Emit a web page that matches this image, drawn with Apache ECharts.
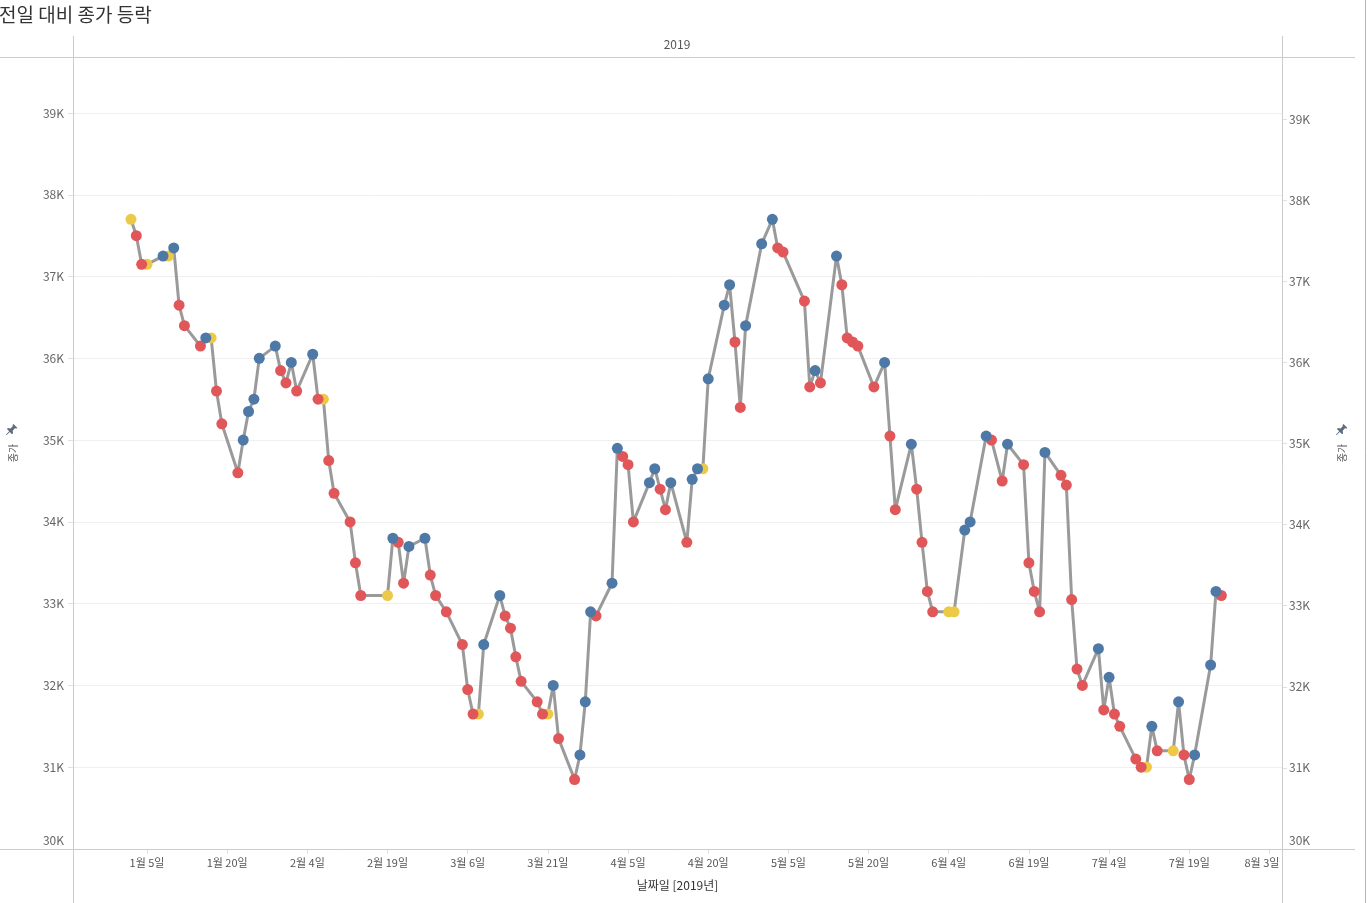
<!DOCTYPE html>
<html style="height: 100%">
<head>
<meta charset="utf-8">
<script src="https://cdn.jsdelivr.net/npm/echarts@6/dist/echarts.min.js"></script>
</head>
<body style="height: 100%; margin: 0; background: #fff">
<div id="container" style="width: 1372px; height: 903px;"></div>
<script type="text/javascript">
// closing prices
var dates = [
  '2019-01-02','2019-01-03','2019-01-04','2019-01-05',
  '2019-01-08','2019-01-09','2019-01-10','2019-01-11','2019-01-12',
  '2019-01-15','2019-01-16','2019-01-17','2019-01-18','2019-01-19',
  '2019-01-22','2019-01-23','2019-01-24','2019-01-25','2019-01-26',
  '2019-01-29','2019-01-30','2019-01-31','2019-02-01','2019-02-02',
  '2019-02-05','2019-02-06','2019-02-07','2019-02-08','2019-02-09',
  '2019-02-12','2019-02-13','2019-02-14',
  '2019-02-19','2019-02-20','2019-02-21','2019-02-22','2019-02-23',
  '2019-02-26','2019-02-27','2019-02-28','2019-03-02',
  '2019-03-05','2019-03-06','2019-03-07','2019-03-08','2019-03-09',
  '2019-03-12','2019-03-13','2019-03-14','2019-03-15','2019-03-16',
  '2019-03-19','2019-03-20','2019-03-21','2019-03-22','2019-03-23',
  '2019-03-26','2019-03-27','2019-03-28','2019-03-29','2019-03-30',
  '2019-04-02','2019-04-03','2019-04-04','2019-04-05','2019-04-06',
  '2019-04-09','2019-04-10','2019-04-11','2019-04-12','2019-04-13',
  '2019-04-16','2019-04-17','2019-04-18','2019-04-19','2019-04-20',
  '2019-04-23','2019-04-24','2019-04-25','2019-04-26','2019-04-27',
  '2019-04-30','2019-05-02','2019-05-03','2019-05-04',
  '2019-05-08','2019-05-09','2019-05-10','2019-05-11',
  '2019-05-14','2019-05-15','2019-05-16','2019-05-17','2019-05-18',
  '2019-05-21','2019-05-23','2019-05-24','2019-05-25',
  '2019-05-28','2019-05-29','2019-05-30','2019-05-31','2019-06-01',
  '2019-06-04','2019-06-05','2019-06-07','2019-06-08',
  '2019-06-11','2019-06-12','2019-06-14','2019-06-15',
  '2019-06-18','2019-06-19','2019-06-20','2019-06-21','2019-06-22',
  '2019-06-25','2019-06-26','2019-06-27','2019-06-28','2019-06-29',
  '2019-07-02','2019-07-03','2019-07-04','2019-07-05','2019-07-06',
  '2019-07-09','2019-07-10','2019-07-11','2019-07-12','2019-07-13',
  '2019-07-16','2019-07-17','2019-07-18','2019-07-19','2019-07-20',
  '2019-07-23','2019-07-24','2019-07-25'
];
var closes = [
  37700, 37500, 37150, 37150,
  37250, 37250, 37350, 36650, 36400,
  36150, 36250, 36250, 35600, 35200,
  34600, 35000, 35350, 35500, 36000,
  36150, 35850, 35700, 35950, 35600,
  36050, 35500, 35500, 34750, 34350,
  34000, 33500, 33100,
  33100, 33800, 33750, 33250, 33700,
  33800, 33350, 33100, 32900,
  32500, 31950, 31650, 31650, 32500,
  33100, 32850, 32700, 32350, 32050,
  31800, 31650, 31650, 32000, 31350,
  30850, 31150, 31800, 32900, 32850,
  33250, 34900, 34800, 34700, 34000,
  34480, 34650, 34400, 34150, 34480,
  33750, 34520, 34650, 34650, 35750,
  36650, 36900, 36200, 35400, 36400,
  37400, 37700, 37350, 37300,
  36700, 35650, 35850, 35700,
  37250, 36900, 36250, 36200, 36150,
  35650, 35950, 35050, 34150,
  34950, 34400, 33750, 33150, 32900,
  32900, 32900, 33900, 34000,
  35050, 35000, 34500, 34950,
  34700, 33500, 33150, 32900, 34850,
  34570, 34450, 33050, 32200, 32000,
  32450, 31700, 32100, 31650, 31500,
  31100, 31000, 31000, 31500, 31200,
  31200, 31800, 31150, 30850, 31150,
  32250, 33150, 33100
];
var tickDates = [
  '2019-01-05','2019-01-20','2019-02-04','2019-02-19','2019-03-06',
  '2019-03-21','2019-04-05','2019-04-20','2019-05-05','2019-05-20',
  '2019-06-04','2019-06-19','2019-07-04','2019-07-19','2019-08-03'
];

var FONT = "'Noto Sans CJK KR', 'Noto Sans', sans-serif";
var UP = '#4e79a7', DOWN = '#e15759', SAME = '#edc948';
var FRAME = '#cccccc';

function toTime(s) {
    var p = s.split('-');
    return new Date(+p[0], +p[1] - 1, +p[2]).getTime();
}

var linePts = [], sameDots = [], downDots = [], upDots = [];
for (var i = 0; i < dates.length; i++) {
    var pt = [toTime(dates[i]), closes[i]];
    linePts.push(pt);
    if (i === 0 || closes[i] === closes[i - 1]) sameDots.push(pt);
    else if (closes[i] < closes[i - 1]) downDots.push(pt);
    else upDots.push(pt);
}
var tickTimes = tickDates.map(toTime);
var lastTick = tickTimes[tickTimes.length - 1];

function kLabel(v) {
    if (v % 1000 !== 0) return '';
    if (v === 30000) return '{lo|30K}';
    return (v / 1000) + 'K';
}
function yLabel(margin) {
    return {
        margin: margin,
        color: '#666', fontSize: 12, fontFamily: FONT, formatter: kLabel,
        showMaxLabel: false,
        rich: { lo: { color: '#666', fontSize: 12, fontFamily: FONT, padding: [0, 0, 18, 0] } }
    };
}

// little pushpin next to the axis titles
var pinShape = [[6.5,0],[10,3.5],[9,4],[7.8,3.8],[5.8,5.8],[6.2,8],[5.3,8.9],[3.3,6.9],[0.6,9.6],
                [0.1,9.6],[0.1,9.1],[2.8,6.4],[0.8,4.4],[1.7,3.5],[3.9,3.9],[5.9,1.9],[5.7,0.8]];
function pin(x0, y0) {
    return {
        type: 'polygon',
        shape: { points: pinShape.map(function (p) { return [x0 + p[0] * 1.15, y0 + p[1] * 1.15]; }) },
        style: { fill: '#5d6d7e' }
    };
}

var myChart = echarts.init(document.getElementById('container'));
var option = {
    animation: false,
    backgroundColor: '#fff',
    title: [
        { text: '전일 대비 종가 등락', left: -1, top: 5, padding: 0,
          textStyle: { fontFamily: FONT, fontSize: 19, fontWeight: 'normal', color: '#333' } },
        { text: '2019', left: 677, top: 38, padding: 0, textAlign: 'center',
          textStyle: { fontFamily: FONT, fontSize: 12, fontWeight: 'normal', color: '#555' } }
    ],
    grid: { left: 73, right: 90, top: 57, bottom: 54 },
    xAxis: {
        type: 'value',
        min: new Date(2018, 11, 22, 3, 43).getTime(),
        max: new Date(2019, 7, 5, 8, 24).getTime(),
        name: '날짜일 [2019년]',
        nameLocation: 'middle',
        nameGap: 30,
        nameTextStyle: { fontFamily: FONT, fontSize: 12, color: '#333' },
        axisLine: { show: false },
        splitLine: { show: false },
        axisTick: { show: true, customValues: tickTimes, length: 5, lineStyle: { color: '#e0e0e0' } },
        axisLabel: {
            customValues: tickTimes,
            margin: 8,
            color: '#555', fontSize: 11, fontFamily: FONT,
            formatter: function (v) {
                var d = new Date(v);
                var s = (d.getMonth() + 1) + '월 ' + d.getDate() + '일';
                return v === lastTick ? '{r|' + s + '}' : s;
            },
            rich: { r: { color: '#555', fontSize: 11, fontFamily: FONT, padding: [0, 15, 0, 0] } }
        }
    },
    yAxis: [
        {
            type: 'value', position: 'left',
            min: 30000, max: 39685, interval: 1000,
            name: '종가', nameLocation: 'middle', nameRotate: 90, nameGap: 55,
            nameTextStyle: { fontFamily: FONT, fontSize: 10, color: '#555' },
            axisLine: { show: false },
            axisTick: { show: true, length: 5, lineStyle: { color: '#e0e0e0' } },
            axisLabel: yLabel(9),
            splitLine: { lineStyle: { color: '#efefef', width: 1 } }
        },
        {
            type: 'value', position: 'right',
            min: 30000, max: 39765, interval: 1000,
            name: '종가', nameLocation: 'middle', nameRotate: 90, nameGap: 55,
            nameTextStyle: { fontFamily: FONT, fontSize: 10, color: '#555' },
            axisLine: { show: false },
            axisTick: { show: true, length: 5, lineStyle: { color: '#e0e0e0' } },
            axisLabel: yLabel(7),
            splitLine: { show: false }
        }
    ],
    graphic: [
        { type: 'line', shape: { x1: 0, y1: 57.5, x2: 1355, y2: 57.5 }, style: { stroke: FRAME, lineWidth: 1 }, z: 10 },
        { type: 'line', shape: { x1: 0, y1: 849.5, x2: 1355, y2: 849.5 }, style: { stroke: FRAME, lineWidth: 1 }, z: 10 },
        { type: 'line', shape: { x1: 73.5, y1: 36, x2: 73.5, y2: 903 }, style: { stroke: FRAME, lineWidth: 1 }, z: 10 },
        { type: 'line', shape: { x1: 1282.5, y1: 36, x2: 1282.5, y2: 903 }, style: { stroke: FRAME, lineWidth: 1 }, z: 10 },
        { type: 'line', shape: { x1: 1365.5, y1: 0, x2: 1365.5, y2: 903 }, style: { stroke: '#b4b4b4', lineWidth: 1 }, z: 10 },
        pin(6, 424),
        pin(1336, 424)
    ],
    series: [
        {
            type: 'line', data: linePts, showSymbol: false,
            lineStyle: { color: '#9a9a9a', width: 3 }, z: 2
        },
        { type: 'scatter', data: sameDots, symbolSize: 11, itemStyle: { color: SAME, opacity: 1 }, z: 3 },
        { type: 'scatter', data: downDots, symbolSize: 11, itemStyle: { color: DOWN, opacity: 1 }, z: 3 },
        { type: 'scatter', data: upDots, symbolSize: 11, itemStyle: { color: UP, opacity: 1 }, z: 3 }
    ]
};
myChart.setOption(option, true);
</script>
</body>
</html>
